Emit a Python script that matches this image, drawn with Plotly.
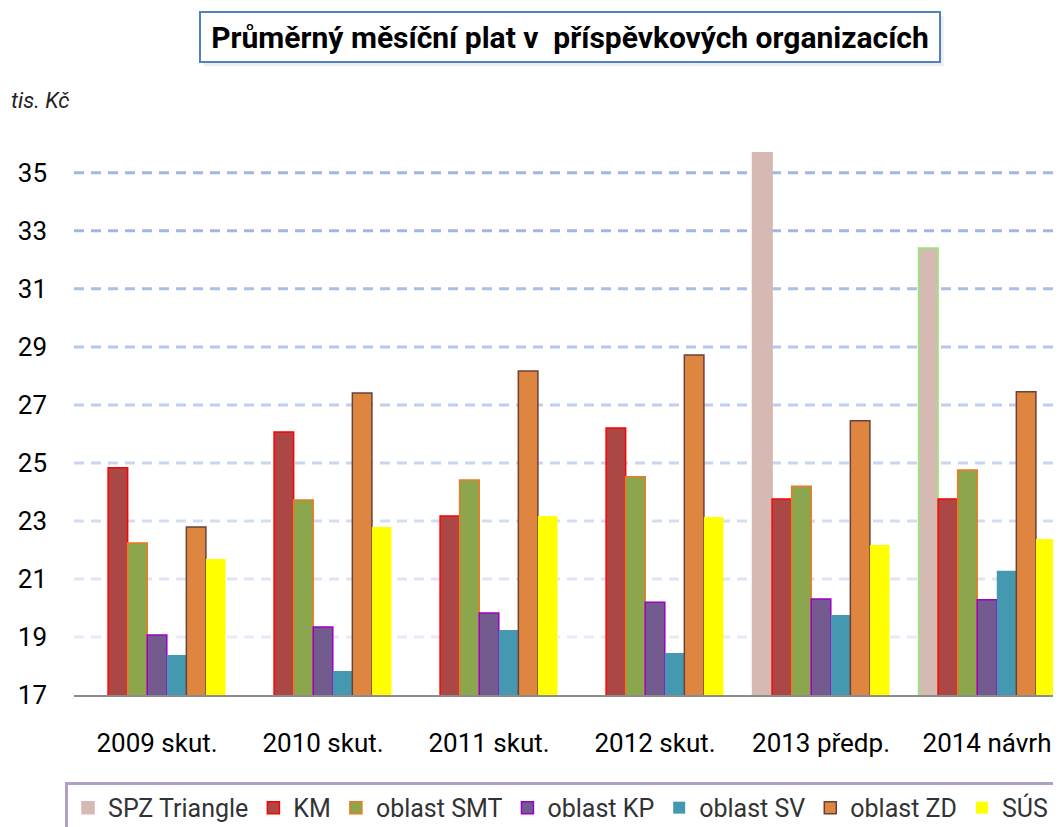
import plotly.graph_objects as go

# ------------------------------------------------------------
# Data (tis. Kč)
# ------------------------------------------------------------
YEARS = ["2009 skut.", "2010 skut.", "2011 skut.", "2012 skut.", "2013 předp.", "2014 návrh"]

SPZ_TRIANGLE = [None, None, None, None, 35.69, 32.41]
KM = [24.83, 26.07, 23.17, 26.20, 23.76, 23.76]
OBLAST_SMT = [22.24, 23.72, 24.41, 24.52, 24.20, 24.76]
OBLAST_KP = [19.07, 19.34, 19.83, 20.20, 20.31, 20.28]
OBLAST_SV = [18.38, 17.83, 19.24, 18.45, 19.76, 21.28]
OBLAST_ZD = [22.79, 27.41, 28.17, 28.72, 26.45, 27.45]
SUS = [21.69, 22.79, 23.17, 23.14, 22.17, 22.38]

Y_TICKS = [17, 19, 21, 23, 25, 27, 29, 31, 33, 35]

FONT = "Roboto, Noto Sans, sans-serif"

SPZ_OUTLINE = ["#d6b9b2", "#d6b9b2", "#d6b9b2", "#d6b9b2", "#d6b9b2", "#90ee70"]

SERIES = [
    ("SPZ Triangle", SPZ_TRIANGLE, "#d6b9b2", SPZ_OUTLINE, 1.5),
    ("KM", KM, "#ab4744", "#ff0000", 1.5),
    ("oblast SMT", OBLAST_SMT, "#8ba64d", "#f07820", 1.5),
    ("oblast KP", OBLAST_KP, "#735b90", "#9a00c8", 1.5),
    ("oblast SV", OBLAST_SV, "#4499b0", "#4499b0", 0),
    ("oblast ZD", OBLAST_ZD, "#de853f", "#6b4038", 1.5),
    ("SÚS", SUS, "#ffff00", "#ffff00", 0),
]

# gridline colours fade from top to bottom
GRID_COLORS = {
    19: "#e6ecf7", 21: "#dde5f4", 23: "#d3ddf2", 25: "#c9d6f0",
    27: "#bfcfee", 29: "#b5c8ea", 31: "#a9bfe6", 33: "#9fb8e3", 35: "#9fb8e3",
}

fig = go.Figure()

for name, values, fill, outline, lw in SERIES:
    fig.add_trace(go.Bar(
        x=YEARS,
        y=values,
        name=name,
        marker=dict(color=fill, line=dict(color=outline, width=lw)),
        hovertemplate="%{x}<br>%{y:.2f} tis. Kč<extra>" + name + "</extra>",
    ))

# dashed gridlines drawn below the bars
for t in Y_TICKS[1:]:
    fig.add_shape(
        type="line", xref="x domain", yref="y",
        x0=0, x1=0.986, y0=t, y1=t,
        line=dict(color=GRID_COLORS[t], width=3, dash="10px,7px"),
        layer="below",
    )

# soft shadow behind the title box
fig.add_shape(
    type="rect", xref="paper", yref="paper",
    x0=0.1307, x1=0.874, y0=1.129, y1=1.219,
    line=dict(width=0), fillcolor="rgba(0,0,0,0.07)",
    layer="below",
)

# title box
fig.add_annotation(
    xref="paper", yref="paper", x=0.4985, y=1.181,
    xanchor="center", yanchor="middle",
    text="<b>Průměrný měsíční plat v\u00a0 příspěvkových organizacích</b>",
    showarrow=False,
    width=732, height=42,
    font=dict(family=FONT, size=30, color="#000000"),
    bordercolor="#4f81bd", borderwidth=2, borderpad=3, bgcolor="#ffffff",
)

# unit label
fig.add_annotation(
    xref="paper", yref="paper", x=-0.065, y=1.068,
    xanchor="left", yanchor="middle",
    text="<i>tis. Kč</i>", showarrow=False,
    font=dict(family=FONT, size=22, color="#222222"),
)

fig.update_layout(
    width=1061,
    height=827,
    paper_bgcolor="#ffffff",
    plot_bgcolor="#ffffff",
    font=dict(family=FONT, color="#000000"),
    margin=dict(l=66, r=0, t=130, b=140),
    barmode="group",
    bargap=0.175,
    bargroupgap=0,
    showlegend=True,
    legend=dict(
        orientation="h",
        x=-0.009, y=-0.156, xanchor="left", yanchor="top",
        font=dict(family=FONT, size=25, color="#333333"),
        bordercolor="#b0a0c8", borderwidth=3, bgcolor="#ffffff",
        traceorder="normal",
    ),
    xaxis=dict(
        range=[-0.5, 5.494],
        showgrid=False,
        showline=True, linecolor="#8c8c8c", linewidth=2,
        ticks="",
        tickfont=dict(family=FONT, size=26, color="#000000"),
        ticklabelstandoff=24,
    ),
    yaxis=dict(
        range=[17, 36.2],
        tickvals=Y_TICKS,
        showgrid=False,
        zeroline=False,
        showline=False,
        ticks="",
        tickfont=dict(family=FONT, size=26, color="#000000"),
        ticklabelstandoff=26,
    ),
)

fig.write_html("out.html")
